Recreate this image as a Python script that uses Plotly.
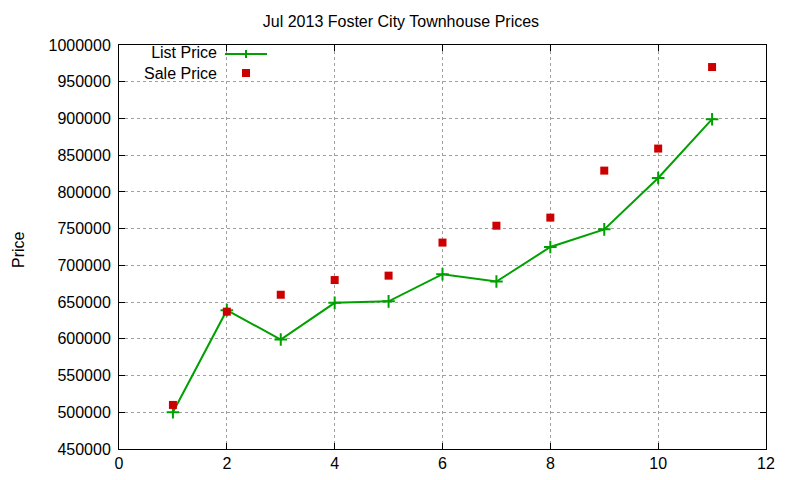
import plotly.graph_objects as go

months = [1, 2, 3, 4, 5, 6, 7, 8, 9, 10, 11]
list_price = [500000, 639000, 599000, 649000, 651000, 688000, 678000, 725000, 749000, 819000, 899000]
sale_price = [510000, 637000, 660000, 680000, 686000, 731000, 754000, 765000, 829000, 859000, 970000]
x_ticks = [0, 2, 4, 6, 8, 10, 12]
y_ticks = [450000, 500000, 550000, 600000, 650000, 700000, 750000, 800000, 850000, 900000, 950000, 1000000]

GREEN = "#00a000"
RED = "#cc0000"
FONT = "Liberation Sans, Arial, sans-serif"
FS = 16

OFF = 8  # page body margin in browser
W, H = 800 - OFF, 480 - OFF
# screen-space plot box: left 119, right 766, top 45, bottom 449
L, R, T, B = 119 - OFF, 800 - 766, 45 - OFF, 480 - 449
pw, ph = W - L - R, H - T - B

def px(x):
    return (x - OFF - L) / pw

def py(y):
    return (H - B - (y - OFF)) / ph

fig = go.Figure()
fig.add_trace(go.Scatter(
    x=months, y=list_price, mode="lines+markers", name="List Price",
    line=dict(color=GREEN, width=2),
    marker=dict(symbol="cross-thin", size=9, line=dict(color=GREEN, width=2)),
    showlegend=False,
))
fig.add_trace(go.Scatter(
    x=months, y=sale_price, mode="markers", name="Sale Price",
    marker=dict(symbol="square", size=8, color=RED),
    showlegend=False,
))

# gnuplot-style legend: text on left (right-aligned), sample on right
fig.add_annotation(text="List Price<br>Sale Price", xref="paper", yref="paper",
                   x=px(218), y=py(63), xanchor="right", yanchor="middle", align="right",
                   showarrow=False, borderpad=0,
                   font=dict(family=FONT, size=FS, color="black"))
fig.add_shape(type="line", xref="paper", yref="paper", x0=px(225), x1=px(267), y0=py(54), y1=py(54),
              line=dict(color=GREEN, width=2))
fig.add_shape(type="line", xref="paper", yref="paper", x0=px(246), x1=px(246), y0=py(50), y1=py(58),
              line=dict(color=GREEN, width=2))
fig.add_shape(type="rect", xref="paper", yref="paper", x0=px(242), x1=px(250), y0=py(69), y1=py(77),
              line=dict(width=0), fillcolor=RED)

# y-axis title placed like gnuplot's
fig.add_annotation(text="Price", xref="paper", yref="paper", x=px(18), y=py(250),
                   xanchor="center", yanchor="middle", textangle=-90, showarrow=False,
                   borderpad=0, font=dict(family=FONT, size=FS, color="black"))

axis_common = dict(
    showline=True, linecolor="black", linewidth=1, mirror="allticks",
    ticks="inside", ticklen=6, tickcolor="black",
    showgrid=True, gridcolor="#a0a0a0", griddash="dot", gridwidth=1,
    zeroline=False, tickfont=dict(family=FONT, size=FS, color="black"),
    automargin=False,
)

fig.update_xaxes(range=[0, 12], tickvals=x_ticks, **axis_common)
fig.update_yaxes(range=[450000, 1000000], tickvals=y_ticks, tickformat="d",
                 ticklabelstandoff=4, **axis_common)

fig.update_layout(
    width=W, height=H,
    margin=dict(l=L, r=R, t=T, b=B, autoexpand=False),
    plot_bgcolor="white", paper_bgcolor="white",
    title=dict(text="Jul 2013 Foster City Townhouse Prices", x=px(440), xanchor="center",
               y=1 - (21 - OFF) / H, yanchor="middle",
               font=dict(family=FONT, size=FS, color="black")),
    font=dict(family=FONT, size=FS, color="black"),
)

fig.write_html("out.html")
